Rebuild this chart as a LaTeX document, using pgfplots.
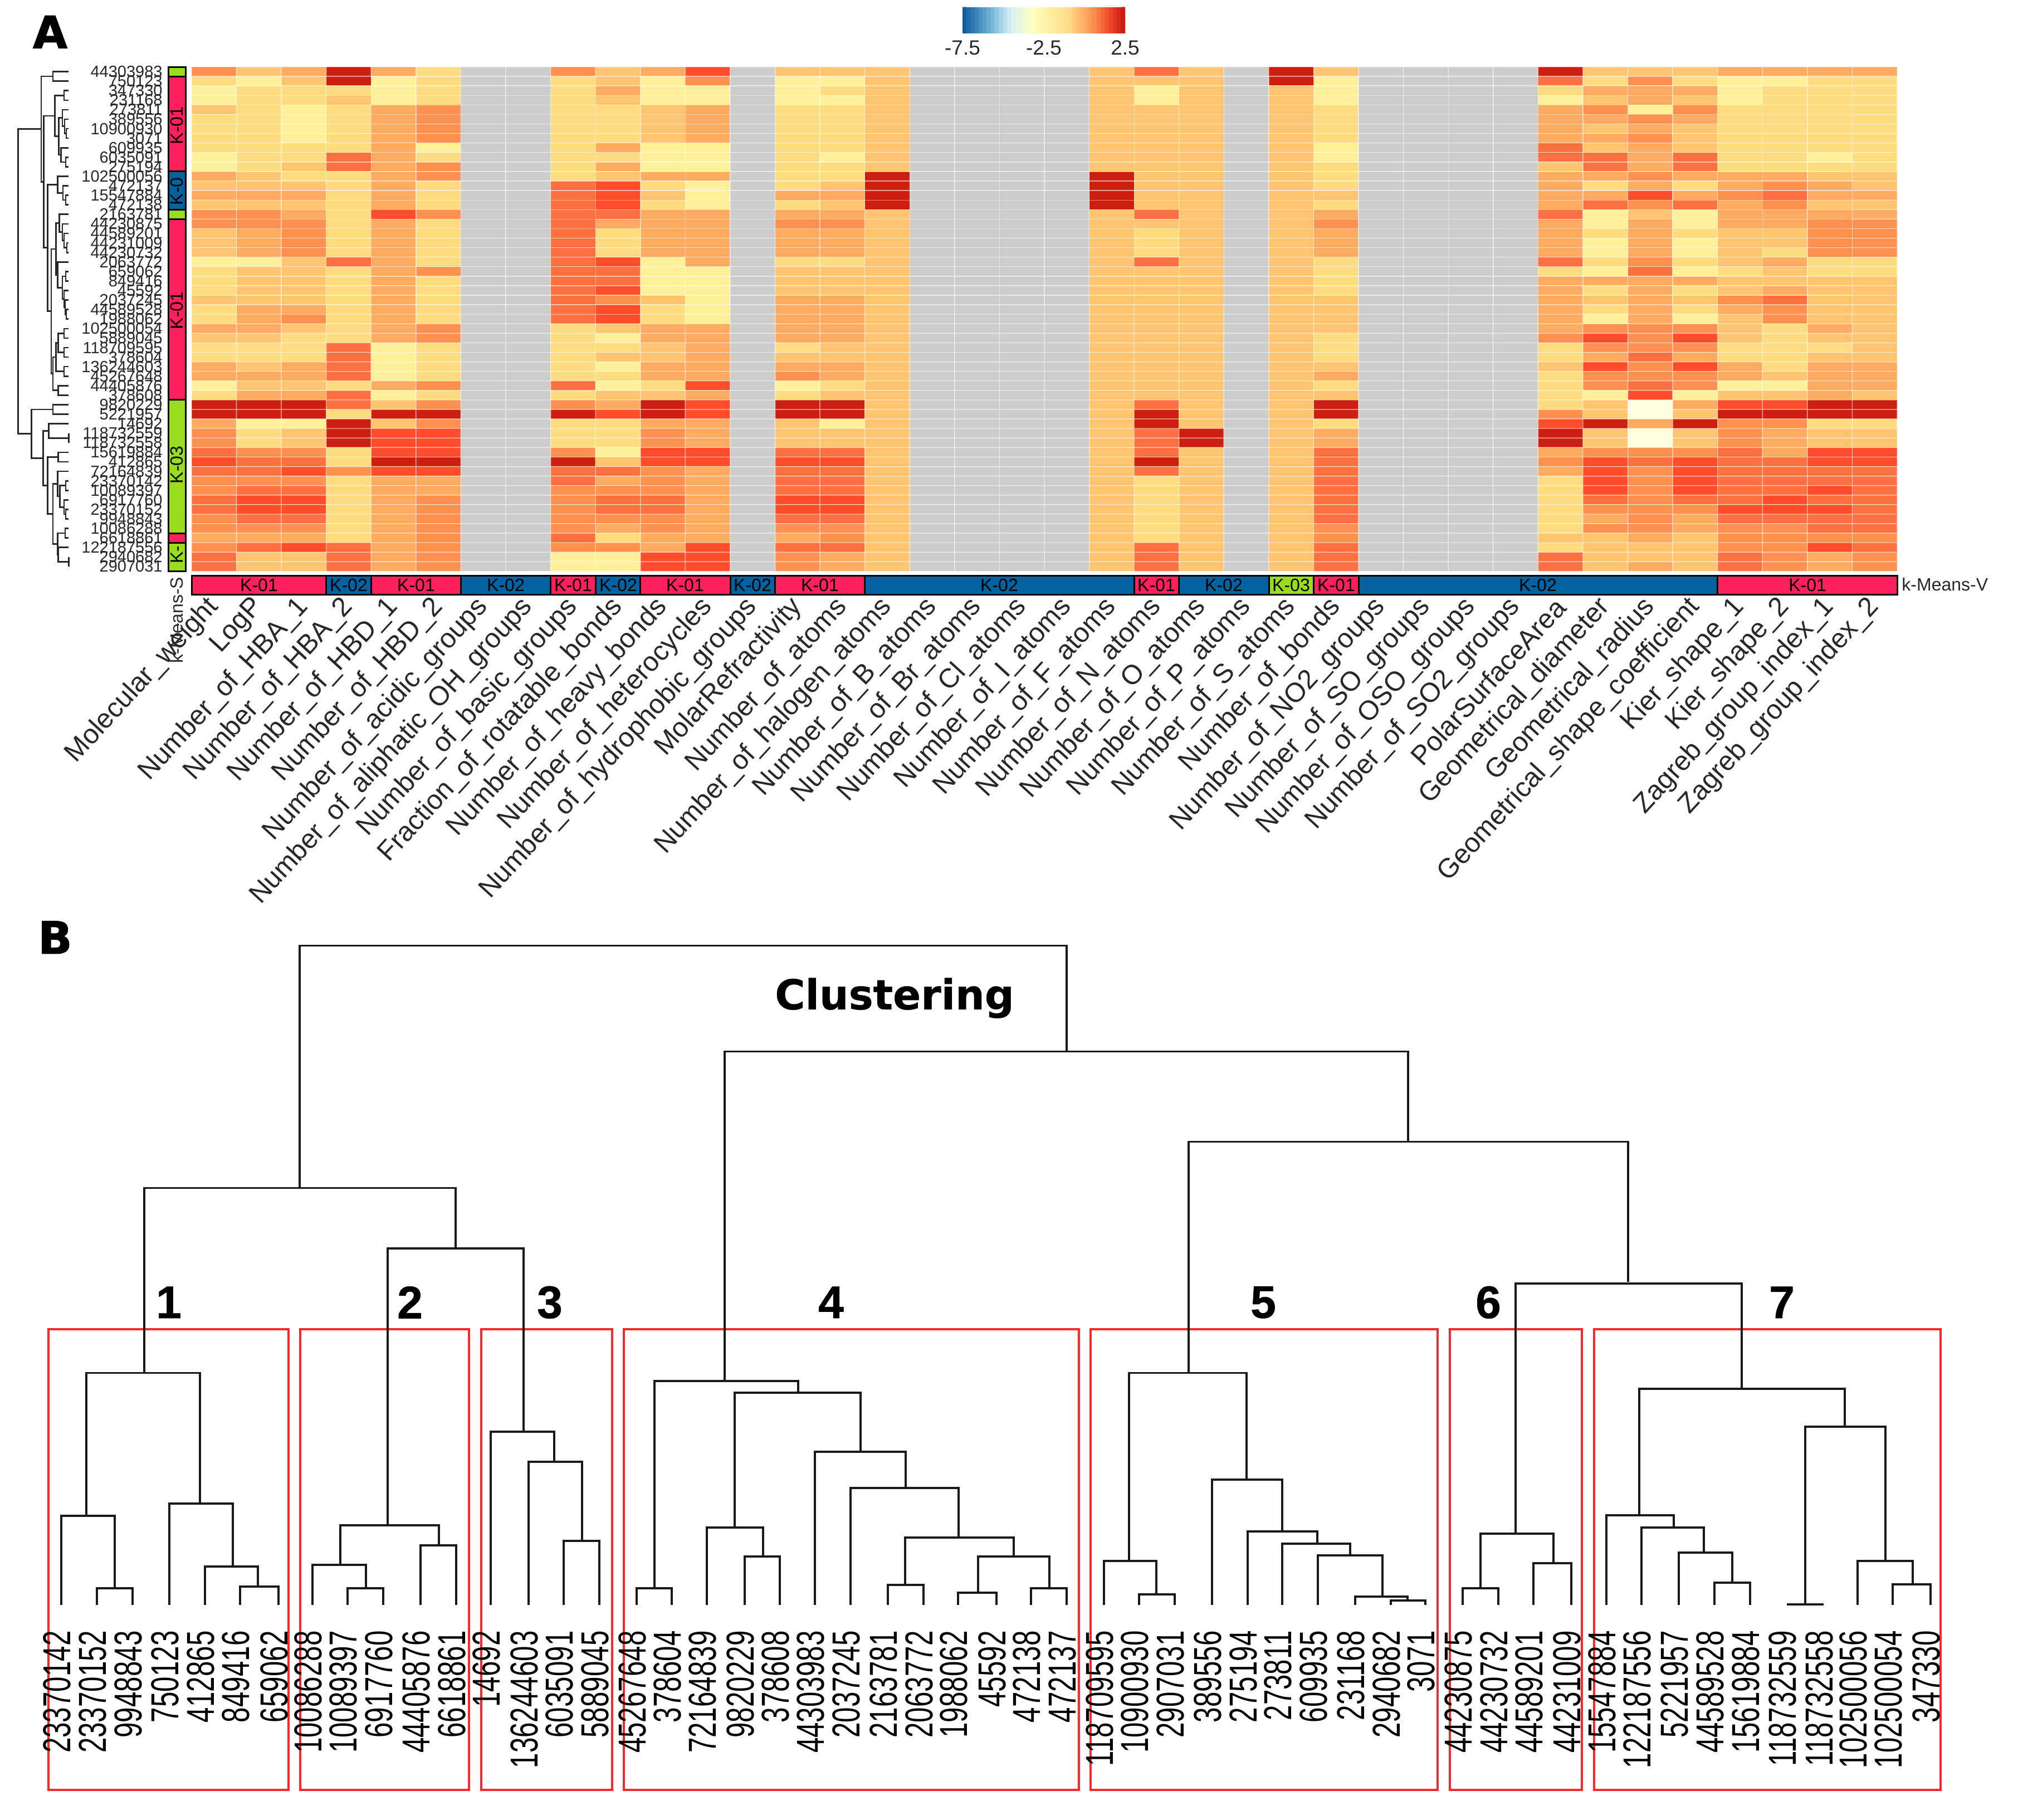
\documentclass[border=0pt]{standalone}
\usepackage{fontspec}
\usepackage{graphicx}
\usepackage{pgfplots}
\pgfplotsset{compat=1.18}
\setmainfont{Liberation Sans}
\newfontfamily\heavy[FakeBold=1.6]{DejaVu Sans Bold}
\newfontfamily\djb[FakeBold=0.5]{DejaVu Sans Bold}
\newfontfamily\numf[FakeBold=0.8]{Liberation Sans Bold}
\newcommand\fs[1]{\fontsize{#1pt}{#1pt}\selectfont}
\definecolor{kred}{RGB}{254,32,92}
\definecolor{kblue}{RGB}{4,98,160}
\definecolor{kgreen}{RGB}{154,220,30}
\definecolor{boxred}{RGB}{250,40,40}
\definecolor{dk}{RGB}{40,40,40}
% rectangles of the annotation bars
\newcommand\BAR[5]{\addplot[fill=#5,draw=black,line width=1.5pt] coordinates {(#1,#3)(#2,#3)(#2,#4)(#1,#4)} --cycle;}
\newcommand\BOX[2]{\addplot[draw=boxred,line width=1.8pt] coordinates {(#1,2386)(#2,2386)(#2,3213)(#1,3213)} --cycle;}
\newcommand\TL[2]{\node[font=\fs{16},text=black,inner sep=0pt] at (axis cs:#1,1051) {#2};}
\newcommand\SL[2]{\node[font=\fs{16},text=black,inner sep=0pt,rotate=90] at (axis cs:317,#1) {#2};}
\newcommand\RL[2]{\node[font=\fs{14.5},text=dk,inner sep=0pt,anchor=east] at (axis cs:292,#1) {#2};}
\newcommand\CL[2]{\node[font=\fs{24.4},text=dk,inner sep=0pt,anchor=east,rotate=47.5] at (axis cs:#1,1082) {#2};}
\newcommand\LF[2]{\node[font=\fs{35},text=black,inner sep=0pt,anchor=east,rotate=90] at (axis cs:#1-8,2927) {\scalebox{0.705}[1]{#2}};}
\newcommand\NB[2]{\node[font=\numf\fs{41},text=black,inner sep=0pt] at (axis cs:#1,2338) {#2};}
\begin{document}
\begin{tikzpicture}
\path[use as bounding box] (0,0) rectangle (1811.5pt,1633pt);
\begin{axis}[at={(0,0)},anchor=south west,scale only axis,width=1811.5pt,height=1633pt,
  xmin=0,xmax=3623,ymin=0,ymax=3266,y dir=reverse,hide axis,clip=false,
  point meta min=0,point meta max=9,
  colormap={hm}{rgb255(0cm)=(204,204,204) rgb255(1cm)=(255,255,224) rgb255(2cm)=(255,240,154)
    rgb255(3cm)=(254,220,128) rgb255(4cm)=(254,196,112) rgb255(5cm)=(254,170,96) rgb255(6cm)=(255,144,80)
    rgb255(7cm)=(255,112,64) rgb255(8cm)=(255,76,42) rgb255(9cm)=(204,31,16)}]
% heat map: one line per compound, 38 descriptors left to right; 0 = not available
\addplot[matrix plot*,mesh/rows=53,mesh/cols=38,point meta=explicit,
  draw=white,draw opacity=0.45,line width=0.7pt]
 table[row sep=\\,header=false,
   x expr={344+80.58*(mod(\coordindex,38)+0.5)},
   y expr={120.7+17.08*(floor((\coordindex+0.5)/38)+0.5)},
   meta index=0] {
6\\4\\5\\9\\5\\3\\0\\0\\6\\4\\5\\8\\0\\4\\4\\4\\0\\0\\0\\0\\4\\7\\4\\0\\9\\4\\0\\0\\0\\0\\9\\4\\4\\4\\5\\5\\5\\5\\
3\\2\\4\\9\\2\\3\\0\\0\\3\\4\\2\\6\\0\\2\\2\\4\\0\\0\\0\\0\\4\\4\\4\\0\\9\\2\\0\\0\\0\\0\\7\\3\\6\\3\\2\\2\\3\\3\\
2\\3\\3\\3\\2\\3\\0\\0\\3\\5\\2\\2\\0\\2\\3\\4\\0\\0\\0\\0\\4\\2\\4\\0\\4\\2\\0\\0\\0\\0\\3\\5\\5\\5\\2\\3\\3\\3\\
2\\3\\3\\4\\2\\3\\0\\0\\3\\4\\2\\2\\0\\2\\2\\4\\0\\0\\0\\0\\4\\2\\4\\0\\4\\2\\0\\0\\0\\0\\2\\4\\5\\4\\2\\3\\3\\3\\
4\\3\\2\\3\\5\\6\\0\\0\\3\\3\\4\\5\\0\\3\\3\\4\\0\\0\\0\\0\\4\\4\\4\\0\\4\\3\\0\\0\\0\\0\\5\\6\\2\\6\\3\\3\\3\\3\\
3\\3\\2\\3\\5\\6\\0\\0\\3\\3\\4\\5\\0\\3\\3\\4\\0\\0\\0\\0\\4\\4\\4\\0\\4\\3\\0\\0\\0\\0\\5\\5\\6\\5\\3\\3\\3\\3\\
3\\3\\2\\3\\5\\6\\0\\0\\3\\3\\4\\5\\0\\3\\3\\4\\0\\0\\0\\0\\4\\4\\4\\0\\4\\3\\0\\0\\0\\0\\5\\4\\5\\4\\3\\3\\3\\3\\
3\\3\\2\\3\\5\\6\\0\\0\\3\\3\\4\\5\\0\\3\\3\\4\\0\\0\\0\\0\\4\\4\\4\\0\\4\\3\\0\\0\\0\\0\\5\\5\\6\\4\\3\\3\\3\\3\\
3\\3\\3\\3\\5\\2\\0\\0\\3\\5\\2\\2\\0\\3\\3\\4\\0\\0\\0\\0\\4\\4\\4\\0\\4\\2\\0\\0\\0\\0\\7\\4\\5\\4\\3\\3\\3\\3\\
2\\3\\3\\7\\5\\3\\0\\0\\3\\3\\2\\2\\0\\3\\2\\4\\0\\0\\0\\0\\4\\4\\4\\0\\4\\2\\0\\0\\0\\0\\7\\7\\5\\7\\3\\3\\2\\3\\
2\\3\\4\\7\\5\\6\\0\\0\\3\\5\\2\\2\\0\\3\\3\\4\\0\\0\\0\\0\\4\\4\\4\\0\\4\\3\\0\\0\\0\\0\\4\\7\\5\\7\\3\\3\\3\\3\\
5\\4\\3\\3\\5\\6\\0\\0\\3\\4\\5\\5\\0\\3\\3\\9\\0\\0\\0\\0\\9\\4\\4\\0\\4\\3\\0\\0\\0\\0\\5\\5\\6\\5\\5\\5\\4\\4\\
4\\4\\4\\3\\5\\3\\0\\0\\7\\8\\3\\2\\0\\3\\4\\9\\0\\0\\0\\0\\9\\4\\4\\0\\4\\3\\0\\0\\0\\0\\5\\3\\5\\3\\5\\6\\5\\4\\
5\\5\\5\\3\\5\\3\\0\\0\\7\\8\\4\\2\\0\\5\\5\\9\\0\\0\\0\\0\\9\\4\\4\\0\\4\\4\\0\\0\\0\\0\\5\\5\\8\\5\\6\\7\\5\\5\\
4\\4\\4\\3\\5\\3\\0\\0\\7\\8\\3\\2\\0\\3\\4\\9\\0\\0\\0\\0\\9\\4\\4\\0\\4\\3\\0\\0\\0\\0\\5\\7\\6\\7\\5\\6\\4\\4\\
6\\6\\5\\3\\8\\6\\0\\0\\7\\7\\5\\5\\0\\5\\5\\4\\0\\0\\0\\0\\4\\7\\4\\0\\4\\5\\0\\0\\0\\0\\7\\2\\4\\2\\5\\5\\5\\5\\
6\\6\\6\\3\\5\\3\\0\\0\\7\\5\\5\\5\\0\\6\\6\\4\\0\\0\\0\\0\\4\\4\\4\\0\\4\\6\\0\\0\\0\\0\\5\\2\\5\\2\\5\\5\\6\\6\\
4\\5\\6\\3\\5\\3\\0\\0\\7\\3\\5\\5\\0\\5\\5\\4\\0\\0\\0\\0\\4\\3\\4\\0\\4\\5\\0\\0\\0\\0\\5\\3\\5\\3\\4\\4\\6\\6\\
4\\5\\6\\3\\5\\3\\0\\0\\7\\3\\5\\5\\0\\5\\5\\4\\0\\0\\0\\0\\4\\3\\4\\0\\4\\5\\0\\0\\0\\0\\5\\2\\5\\2\\4\\4\\6\\6\\
4\\5\\6\\3\\5\\3\\0\\0\\7\\3\\5\\5\\0\\5\\5\\4\\0\\0\\0\\0\\4\\3\\4\\0\\4\\5\\0\\0\\0\\0\\5\\2\\5\\2\\4\\3\\6\\6\\
2\\2\\4\\7\\5\\3\\0\\0\\7\\8\\2\\5\\0\\3\\3\\4\\0\\0\\0\\0\\4\\7\\4\\0\\4\\3\\0\\0\\0\\0\\7\\3\\6\\3\\4\\5\\3\\3\\
3\\4\\4\\3\\5\\6\\0\\0\\7\\7\\2\\2\\0\\4\\4\\4\\0\\0\\0\\0\\4\\4\\4\\0\\4\\3\\0\\0\\0\\0\\3\\2\\7\\2\\3\\4\\3\\3\\
3\\4\\4\\3\\5\\3\\0\\0\\7\\7\\2\\2\\0\\4\\4\\4\\0\\0\\0\\0\\4\\4\\4\\0\\4\\3\\0\\0\\0\\0\\5\\5\\5\\5\\4\\4\\4\\4\\
3\\4\\4\\3\\5\\3\\0\\0\\7\\8\\2\\2\\0\\4\\4\\4\\0\\0\\0\\0\\4\\4\\4\\0\\4\\3\\0\\0\\0\\0\\5\\3\\5\\3\\4\\5\\4\\4\\
4\\4\\4\\3\\5\\3\\0\\0\\7\\6\\4\\2\\0\\5\\5\\4\\0\\0\\0\\0\\4\\4\\4\\0\\4\\4\\0\\0\\0\\0\\5\\4\\5\\4\\6\\7\\4\\4\\
3\\5\\5\\3\\5\\3\\0\\0\\7\\8\\3\\2\\0\\5\\5\\4\\0\\0\\0\\0\\4\\4\\4\\0\\4\\4\\0\\0\\0\\0\\5\\3\\5\\3\\5\\6\\4\\4\\
3\\5\\6\\3\\5\\3\\0\\0\\7\\8\\3\\2\\0\\5\\5\\4\\0\\0\\0\\0\\4\\4\\4\\0\\4\\4\\0\\0\\0\\0\\5\\2\\5\\2\\4\\6\\4\\4\\
5\\5\\4\\3\\5\\6\\0\\0\\3\\4\\5\\5\\0\\5\\5\\4\\0\\0\\0\\0\\4\\4\\4\\0\\4\\4\\0\\0\\0\\0\\5\\6\\6\\6\\4\\3\\5\\4\\
4\\4\\3\\3\\5\\6\\0\\0\\3\\2\\5\\5\\0\\5\\5\\4\\0\\0\\0\\0\\4\\4\\4\\0\\4\\3\\0\\0\\0\\0\\6\\8\\6\\8\\4\\3\\4\\4\\
3\\3\\3\\7\\2\\3\\0\\0\\3\\3\\4\\5\\0\\3\\4\\4\\0\\0\\0\\0\\4\\4\\4\\0\\4\\3\\0\\0\\0\\0\\3\\6\\6\\6\\3\\3\\3\\4\\
3\\3\\3\\7\\2\\3\\0\\0\\3\\4\\4\\5\\0\\4\\4\\4\\0\\0\\0\\0\\4\\4\\4\\0\\4\\3\\0\\0\\0\\0\\3\\5\\7\\5\\3\\3\\4\\4\\
5\\4\\5\\7\\2\\3\\0\\0\\3\\2\\5\\5\\0\\5\\5\\4\\0\\0\\0\\0\\4\\4\\4\\0\\4\\4\\0\\0\\0\\0\\4\\8\\6\\8\\5\\3\\5\\5\\
5\\5\\5\\7\\2\\3\\0\\0\\3\\3\\5\\5\\0\\6\\5\\4\\0\\0\\0\\0\\4\\4\\4\\0\\4\\5\\0\\0\\0\\0\\3\\6\\6\\6\\5\\4\\5\\5\\
2\\4\\4\\3\\5\\6\\0\\0\\7\\2\\3\\8\\0\\2\\3\\4\\0\\0\\0\\0\\4\\4\\4\\0\\4\\3\\0\\0\\0\\0\\3\\6\\7\\6\\2\\2\\5\\5\\
3\\5\\5\\7\\2\\3\\0\\0\\3\\4\\4\\5\\0\\3\\4\\4\\0\\0\\0\\0\\4\\4\\4\\0\\4\\4\\0\\0\\0\\0\\3\\2\\8\\2\\4\\4\\5\\4\\
9\\9\\9\\7\\4\\6\\0\\0\\6\\5\\9\\8\\0\\9\\9\\4\\0\\0\\0\\0\\4\\7\\4\\0\\4\\9\\0\\0\\0\\0\\3\\4\\1\\5\\8\\8\\9\\9\\
9\\9\\9\\3\\9\\9\\0\\0\\9\\8\\9\\8\\0\\9\\9\\4\\0\\0\\0\\0\\4\\9\\4\\0\\4\\9\\0\\0\\0\\0\\6\\4\\1\\4\\9\\9\\9\\9\\
5\\2\\2\\9\\4\\6\\0\\0\\3\\3\\5\\5\\0\\4\\2\\4\\0\\0\\0\\0\\4\\9\\4\\0\\4\\3\\0\\0\\0\\0\\8\\9\\5\\9\\6\\6\\3\\3\\
6\\3\\4\\9\\8\\8\\0\\0\\3\\3\\6\\5\\0\\4\\4\\4\\0\\0\\0\\0\\4\\7\\9\\0\\4\\5\\0\\0\\0\\0\\9\\4\\1\\4\\6\\5\\4\\4\\
6\\3\\4\\9\\8\\8\\0\\0\\3\\3\\6\\5\\0\\4\\4\\4\\0\\0\\0\\0\\4\\7\\9\\0\\4\\5\\0\\0\\0\\0\\9\\4\\1\\4\\6\\5\\4\\4\\
7\\6\\6\\3\\8\\8\\0\\0\\6\\2\\8\\8\\0\\7\\7\\4\\0\\0\\0\\0\\4\\7\\4\\0\\4\\7\\0\\0\\0\\0\\5\\6\\6\\6\\7\\5\\8\\8\\
8\\7\\7\\3\\9\\9\\0\\0\\9\\4\\8\\8\\0\\8\\8\\4\\0\\0\\0\\0\\4\\9\\4\\0\\4\\7\\0\\0\\0\\0\\6\\8\\7\\8\\7\\7\\8\\8\\
7\\7\\8\\6\\8\\8\\0\\0\\7\\7\\6\\5\\0\\7\\7\\4\\0\\0\\0\\0\\4\\7\\4\\0\\4\\7\\0\\0\\0\\0\\5\\8\\6\\8\\7\\7\\7\\7\\
6\\6\\6\\3\\5\\5\\0\\0\\7\\5\\6\\5\\0\\7\\7\\4\\0\\0\\0\\0\\4\\3\\4\\0\\4\\7\\0\\0\\0\\0\\3\\8\\6\\8\\7\\7\\7\\7\\
6\\7\\7\\3\\5\\5\\0\\0\\6\\6\\6\\5\\0\\7\\7\\4\\0\\0\\0\\0\\4\\3\\4\\0\\4\\7\\0\\0\\0\\0\\3\\8\\6\\8\\7\\7\\8\\7\\
7\\8\\8\\3\\5\\6\\0\\0\\6\\7\\7\\5\\0\\8\\8\\4\\0\\0\\0\\0\\4\\3\\4\\0\\4\\7\\0\\0\\0\\0\\3\\7\\6\\7\\7\\8\\7\\7\\
7\\8\\8\\3\\5\\6\\0\\0\\6\\7\\7\\5\\0\\8\\8\\4\\0\\0\\0\\0\\4\\3\\4\\0\\4\\7\\0\\0\\0\\0\\3\\6\\6\\6\\8\\8\\8\\7\\
6\\7\\7\\3\\5\\6\\0\\0\\6\\6\\6\\5\\0\\7\\7\\4\\0\\0\\0\\0\\4\\3\\4\\0\\4\\7\\0\\0\\0\\0\\3\\5\\6\\5\\7\\7\\7\\7\\
6\\6\\6\\3\\5\\6\\0\\0\\6\\5\\6\\5\\0\\6\\6\\4\\0\\0\\0\\0\\4\\3\\4\\0\\4\\6\\0\\0\\0\\0\\3\\6\\6\\5\\6\\6\\7\\7\\
5\\5\\5\\3\\5\\6\\0\\0\\7\\3\\5\\5\\0\\5\\6\\4\\0\\0\\0\\0\\4\\3\\4\\0\\4\\6\\0\\0\\0\\0\\4\\4\\5\\4\\6\\6\\6\\6\\
6\\7\\8\\7\\5\\6\\0\\0\\6\\6\\5\\8\\0\\7\\7\\4\\0\\0\\0\\0\\4\\7\\4\\0\\4\\7\\0\\0\\0\\0\\3\\4\\4\\4\\6\\6\\8\\7\\
7\\4\\4\\7\\5\\6\\0\\0\\2\\2\\8\\8\\0\\6\\5\\4\\0\\0\\0\\0\\4\\7\\4\\0\\4\\7\\0\\0\\0\\0\\7\\4\\4\\4\\7\\6\\5\\6\\
7\\4\\4\\7\\5\\6\\0\\0\\2\\2\\8\\8\\0\\6\\5\\4\\0\\0\\0\\0\\4\\7\\4\\0\\4\\7\\0\\0\\0\\0\\7\\4\\5\\4\\7\\6\\5\\6\\
};
% annotation bar above the variable names
\BAR{344}{585.7}{1034}{1068}{kred}\BAR{585.7}{666.3}{1034}{1068}{kblue}\BAR{666.3}{827.5}{1034}{1068}{kred}
\BAR{827.5}{988.6}{1034}{1068}{kblue}\BAR{988.6}{1069.2}{1034}{1068}{kred}\BAR{1069.2}{1149.8}{1034}{1068}{kblue}
\BAR{1149.8}{1311}{1034}{1068}{kred}\BAR{1311}{1391.5}{1034}{1068}{kblue}\BAR{1391.5}{1552.7}{1034}{1068}{kred}
\BAR{1552.7}{2036.2}{1034}{1068}{kblue}\BAR{2036.2}{2116.8}{1034}{1068}{kred}\BAR{2116.8}{2278}{1034}{1068}{kblue}
\BAR{2278}{2358.5}{1034}{1068}{kgreen}\BAR{2358.5}{2439.1}{1034}{1068}{kred}\BAR{2439.1}{3083.8}{1034}{1068}{kblue}
\BAR{3083.8}{3406}{1034}{1068}{kred}
\TL{465}{K-01}\TL{626}{K-02}\TL{747}{K-01}\TL{908}{K-02}\TL{1029}{K-01}\TL{1110}{K-02}\TL{1230}{K-01}\TL{1351}{K-02}
\TL{1472}{K-01}\TL{1794}{K-02}\TL{2076}{K-01}\TL{2197}{K-02}\TL{2318}{K-03}\TL{2399}{K-01}\TL{2761}{K-02}\TL{3245}{K-01}
% annotation bar beside the compound names
\BAR{302}{333}{120.7}{137.8}{kgreen}\BAR{302}{333}{137.8}{308.6}{kred}\BAR{302}{333}{308.6}{376.9}{kblue}
\BAR{302}{333}{376.9}{394}{kgreen}\BAR{302}{333}{394}{718.5}{kred}\BAR{302}{333}{718.5}{957.6}{kgreen}
\BAR{302}{333}{957.6}{974.7}{kred}\BAR{302}{333}{974.7}{1026}{kgreen}
\SL{226}{K-01}\SL{344}{K-0}\SL{558}{K-01}\SL{835}{K-03}\SL{996}{K-}
\node[font=\fs{16},text=dk,inner sep=0pt,anchor=west] at (axis cs:3414,1050) {k-Means-V};
\node[font=\fs{16},text=dk,inner sep=0pt,anchor=east,rotate=90] at (axis cs:317,1036) {k-Means-S};
% compound names
\RL{129.2}{44303983}\RL{146.3}{750123}\RL{163.4}{347330}\RL{180.5}{231168}\RL{197.6}{273811}\RL{214.6}{389556}
\RL{231.7}{10900930}\RL{248.8}{3071}\RL{265.9}{609935}\RL{283}{6035091}\RL{300}{275194}\RL{317.1}{102500056}
\RL{334.2}{472137}\RL{351.3}{15547884}\RL{368.4}{472138}\RL{385.4}{2163781}\RL{402.5}{44230875}\RL{419.6}{44589201}
\RL{436.7}{44231009}\RL{453.8}{44230732}\RL{470.8}{2063772}\RL{487.9}{659062}\RL{505}{849416}\RL{522.1}{45592}
\RL{539.2}{2037245}\RL{556.2}{44589528}\RL{573.3}{1988062}\RL{590.4}{102500054}\RL{607.5}{5889045}\RL{624.6}{118709595}
\RL{641.6}{378604}\RL{658.7}{136244603}\RL{675.8}{45267648}\RL{692.9}{44405876}\RL{710}{378608}\RL{727}{9820229}
\RL{744.1}{5221957}\RL{761.2}{14692}\RL{778.3}{118732559}\RL{795.4}{118732558}\RL{812.4}{15619884}\RL{829.5}{412865}
\RL{846.6}{72164839}\RL{863.7}{23370142}\RL{880.8}{10089397}\RL{897.8}{6917760}\RL{914.9}{23370152}\RL{932}{9948843}
\RL{949.1}{10086288}\RL{966.2}{6618861}\RL{983.2}{122187556}\RL{1000.3}{2940682}\RL{1017.4}{2907031}
% variable names
\CL{384.3}{Molecular\_weight}\CL{464.9}{LogP}\CL{545.5}{Number\_of\_HBA\_1}\CL{626}{Number\_of\_HBA\_2}
\CL{706.6}{Number\_of\_HBD\_1}\CL{787.2}{Number\_of\_HBD\_2}\CL{867.8}{Number\_of\_acidic\_groups}
\CL{948.4}{Number\_of\_aliphatic\_OH\_groups}\CL{1029}{Number\_of\_basic\_groups}\CL{1109.5}{Fraction\_of\_rotatable\_bonds}
\CL{1190.1}{Number\_of\_heavy\_bonds}\CL{1270.7}{Number\_of\_heterocycles}\CL{1351.3}{Number\_of\_hydrophobic\_groups}
\CL{1431.9}{MolarRefractivity}\CL{1512.4}{Number\_of\_atoms}\CL{1593}{Number\_of\_halogen\_atoms}
\CL{1673.6}{Number\_of\_B\_atoms}\CL{1754.2}{Number\_of\_Br\_atoms}\CL{1834.8}{Number\_of\_Cl\_atoms}
\CL{1915.4}{Number\_of\_I\_atoms}\CL{1995.9}{Number\_of\_F\_atoms}\CL{2076.5}{Number\_of\_N\_atoms}
\CL{2157.1}{Number\_of\_O\_atoms}\CL{2237.7}{Number\_of\_P\_atoms}\CL{2318.3}{Number\_of\_S\_atoms}
\CL{2398.9}{Number\_of\_bonds}\CL{2479.4}{Number\_of\_NO2\_groups}\CL{2560}{Number\_of\_SO\_groups}
\CL{2640.6}{Number\_of\_OSO\_groups}\CL{2721.2}{Number\_of\_SO2\_groups}\CL{2801.8}{PolarSurfaceArea}
\CL{2882.3}{Geometrical\_diameter}\CL{2962.9}{Geometrical\_radius}\CL{3043.5}{Geometrical\_shape\_coefficient}
\CL{3124.1}{Kier\_shape\_1}\CL{3204.7}{Kier\_shape\_2}\CL{3285.2}{Zagreb\_group\_index\_1}\CL{3365.8}{Zagreb\_group\_index\_2}
% dendrogram of the compounds, panel A
\addplot[dk,line width=1.3pt,unbounded coords=jump,x filter/.expression={x*1.045}] coordinates {
(91,137.8)(71,137.8)(71,327)(75,327) (nan,nan)
(118,129.2)(91,129.2)(91,146.3)(118,146.3) (nan,nan)
(94,208.7)(75,208.7)(75,445)(82,445) (nan,nan)
(110,172)(94,172)(94,245)(101,245) (nan,nan)
(118,163.4)(110,163.4)(110,180.5)(118,180.5) (nan,nan)
(107,212)(101,212)(101,278.7)(105,278.7) (nan,nan)
(118,197.6)(107,197.6)(107,227)(111,227) (nan,nan)
(118,214.6)(111,214.6)(111,240)(114,240) (nan,nan)
(118,231.7)(114,231.7)(114,248.8)(118,248.8) (nan,nan)
(118,265.9)(105,265.9)(105,291.5)(113,291.5) (nan,nan)
(118,283)(113,283)(113,300)(118,300) (nan,nan)
(99,332)(82,332)(82,559)(88,559) (nan,nan)
(118,317.1)(99,317.1)(99,347)(108,347) (nan,nan)
(118,334.2)(108,334.2)(108,359.8)(113,359.8) (nan,nan)
(118,351.3)(113,351.3)(113,368.4)(118,368.4) (nan,nan)
(96,447.5)(88,447.5)(88,671)(91,671) (nan,nan)
(102,401)(96,401)(96,494)(99,494) (nan,nan)
(118,385.4)(102,385.4)(102,417)(107,417) (nan,nan)
(118,402.5)(107,402.5)(107,432)(110,432) (nan,nan)
(118,419.6)(110,419.6)(110,445)(115,445) (nan,nan)
(118,436.7)(115,436.7)(115,453.8)(118,453.8) (nan,nan)
(118,470.8)(99,470.8)(99,517)(107,517) (nan,nan)
(113,496.5)(107,496.5)(107,537)(110,537) (nan,nan)
(118,487.9)(113,487.9)(113,505)(118,505) (nan,nan)
(118,522.1)(110,522.1)(110,552)(112,552) (nan,nan)
(118,539.2)(112,539.2)(112,565)(114,565) (nan,nan)
(118,556.2)(114,556.2)(114,573.3)(118,573.3) (nan,nan)
(96,641.5)(91,641.5)(91,701)(100,701) (nan,nan)
(100,616)(96,616)(96,667)(110,667) (nan,nan)
(110,599)(100,599)(100,633)(110,633) (nan,nan)
(118,590.4)(110,590.4)(110,607.5)(118,607.5) (nan,nan)
(118,624.6)(110,624.6)(110,641.6)(118,641.6) (nan,nan)
(118,658.7)(110,658.7)(110,675.8)(118,675.8) (nan,nan)
(118,692.9)(100,692.9)(100,710)(118,710) (nan,nan)
(71,232)(31,232)(31,779)(54,779) (nan,nan)
(91,735.5)(54,735.5)(54,823)(74,823) (nan,nan)
(118,727)(91,727)(91,744.1)(118,744.1) (nan,nan)
(84,774)(74,774)(74,872)(82,872) (nan,nan)
(118,761.2)(84,761.2)(84,787)(118,787) (nan,nan)
(118,778.3)(118,795.4) (nan,nan)
(100,821)(82,821)(82,923)(91,923) (nan,nan)
(118,812.4)(100,812.4)(100,829.5)(118,829.5) (nan,nan)
(99,869)(91,869)(91,977)(99,977) (nan,nan)
(118,846.6)(99,846.6)(99,891.5)(103,891.5) (nan,nan)
(113,872)(103,872)(103,911)(110,911) (nan,nan)
(118,863.7)(113,863.7)(113,880.8)(118,880.8) (nan,nan)
(118,897.8)(110,897.8)(110,923.5)(113,923.5) (nan,nan)
(118,914.9)(113,914.9)(113,932)(118,932) (nan,nan)
(112,957.6)(99,957.6)(99,996)(100,996) (nan,nan)
(118,949.1)(112,949.1)(112,966.2)(118,966.2) (nan,nan)
(118,983.2)(100,983.2)(100,1009)(118,1009) (nan,nan)
(118,1000.3)(118,1017.4)
};
% panel B boxes
\BOX{87}{518}\BOX{539}{842}\BOX{864}{1099}\BOX{1120}{1937}\BOX{1958}{2581}\BOX{2603}{2840}\BOX{2862}{3484}
% panel B dendrogram
\addplot[black!90,line width=1.7pt,unbounded coords=jump] coordinates {
(538,2133)(538,1698)(1915,1698)(1915,1888) (nan,nan)
(259,2464.5)(259,2133)(818,2133)(818,2241) (nan,nan)
(696,2738)(696,2241)(940,2241)(940,2570) (nan,nan)
(1301,2479)(1301,1888)(2528,1888)(2528,2050) (nan,nan)
(2134,2464.5)(2134,2050)(2923,2050)(2923,2301) (nan,nan)
(2721,2753)(2721,2304)(3127,2304)(3127,2493) (nan,nan)
(155,2721)(155,2464.5)(359,2464.5)(359,2699) (nan,nan)
(110,2881)(110,2721)(206,2721)(206,2851) (nan,nan)
(174,2881)(174,2851)(238,2851)(238,2881) (nan,nan)
(304,2881)(304,2699)(418,2699)(418,2812) (nan,nan)
(368,2881)(368,2812)(463,2812)(463,2848) (nan,nan)
(431,2881)(431,2848)(500,2848)(500,2881) (nan,nan)
(611,2809)(611,2738)(788,2738)(788,2774) (nan,nan)
(561,2881)(561,2809)(657,2809)(657,2851) (nan,nan)
(624,2881)(624,2851)(688,2851)(688,2881) (nan,nan)
(755,2881)(755,2774)(819,2774)(819,2881) (nan,nan)
(881,2881)(881,2570)(995,2570)(995,2624) (nan,nan)
(949,2881)(949,2624)(1045,2624)(1045,2766) (nan,nan)
(1012,2881)(1012,2766)(1076,2766)(1076,2881) (nan,nan)
(1175,2851)(1175,2479)(1433,2479)(1433,2500) (nan,nan)
(1143,2881)(1143,2851)(1206,2851)(1206,2881) (nan,nan)
(1319,2742)(1319,2500)(1545,2500)(1545,2606) (nan,nan)
(1269,2881)(1269,2742)(1370,2742)(1370,2794) (nan,nan)
(1337,2881)(1337,2794)(1400,2794)(1400,2881) (nan,nan)
(1463,2881)(1463,2606)(1626,2606)(1626,2671) (nan,nan)
(1527,2881)(1527,2671)(1721,2671)(1721,2760) (nan,nan)
(1625,2845)(1625,2760)(1820,2760)(1820,2794) (nan,nan)
(1594,2881)(1594,2845)(1658,2845)(1658,2881) (nan,nan)
(1756,2859)(1756,2794)(1884,2794)(1884,2851) (nan,nan)
(1720,2881)(1720,2859)(1789,2859)(1789,2881) (nan,nan)
(1851,2881)(1851,2851)(1915,2851)(1915,2881) (nan,nan)
(2027,2802)(2027,2464.5)(2238,2464.5)(2238,2656) (nan,nan)
(1982,2881)(1982,2802)(2076,2802)(2076,2862) (nan,nan)
(2045,2881)(2045,2862)(2109,2862)(2109,2881) (nan,nan)
(2176,2881)(2176,2656)(2302,2656)(2302,2749) (nan,nan)
(2240,2881)(2240,2749)(2365,2749)(2365,2771) (nan,nan)
(2302,2881)(2302,2771)(2424,2771)(2424,2792) (nan,nan)
(2366,2881)(2366,2792)(2482,2792)(2482,2866) (nan,nan)
(2433,2881)(2433,2866)(2527,2866)(2527,2873) (nan,nan)
(2497,2881)(2497,2873)(2559,2873)(2559,2881) (nan,nan)
(2658,2851)(2658,2753)(2789,2753)(2789,2806) (nan,nan)
(2626,2881)(2626,2851)(2690,2851)(2690,2881) (nan,nan)
(2753,2881)(2753,2806)(2821,2806)(2821,2881) (nan,nan)
(2943,2720)(2943,2493)(3312,2493)(3312,2561) (nan,nan)
(2884,2881)(2884,2720)(3005,2720)(3005,2742) (nan,nan)
(2947,2881)(2947,2742)(3059,2742)(3059,2787) (nan,nan)
(3014,2881)(3014,2787)(3110,2787)(3110,2841) (nan,nan)
(3078,2881)(3078,2841)(3142,2841)(3142,2881) (nan,nan)
(3241,2880)(3241,2561)(3385,2561)(3385,2802) (nan,nan)
(3208,2880)(3274,2880) (nan,nan)
(3335,2881)(3335,2802)(3434,2802)(3434,2844) (nan,nan)
(3398,2881)(3398,2844)(3466,2844)(3466,2881)
};
% leaf labels
\LF{110}{23370142}\LF{174}{23370152}\LF{238}{9948843}\LF{304}{750123}\LF{368}{412865}\LF{431}{849416}\LF{500}{659062}
\LF{561}{10086288}\LF{624}{10089397}\LF{688}{6917760}\LF{755}{44405876}\LF{819}{6618861}
\LF{881}{14692}\LF{949}{136244603}\LF{1012}{6035091}\LF{1076}{5889045}
\LF{1143}{45267648}\LF{1206}{378604}\LF{1269}{72164839}\LF{1337}{9820229}\LF{1400}{378608}\LF{1463}{44303983}
\LF{1527}{2037245}\LF{1594}{2163781}\LF{1658}{2063772}\LF{1720}{1988062}\LF{1789}{45592}\LF{1851}{472138}\LF{1915}{472137}
\LF{1982}{118709595}\LF{2045}{10900930}\LF{2109}{2907031}\LF{2176}{389556}\LF{2240}{275194}\LF{2302}{273811}
\LF{2366}{609935}\LF{2433}{231168}\LF{2497}{2940682}\LF{2559}{3071}
\LF{2626}{44230875}\LF{2690}{44230732}\LF{2753}{44589201}\LF{2821}{44231009}
\LF{2884}{15547884}\LF{2947}{122187556}\LF{3014}{5221957}\LF{3078}{44589528}\LF{3142}{15619884}
\LF{3208}{118732559}\LF{3274}{118732558}\LF{3335}{102500056}\LF{3398}{102500054}\LF{3466}{347330}
\NB{303}{1}\NB{736}{2}\NB{987}{3}\NB{1492}{4}\NB{2268}{5}\NB{2672}{6}\NB{3199}{7}
\node[font=\djb\fs{37},inner sep=0pt] at (axis cs:1606,1792) {Clustering};
\node[font=\heavy\fs{40},inner sep=0pt] at (axis cs:90,58) {A};
\node[font=\heavy\fs{40},inner sep=0pt] at (axis cs:99,1683) {B};
\end{axis}
% colour key
\begin{axis}[at={(864pt,1603pt)},anchor=south west,scale only axis,width=146pt,height=23.5pt,
  xmin=-7.5,xmax=2.5,ymin=0,ymax=1,ytick=\empty,xtick={-7.5,-2.5,2.5},xticklabels={-7.5,-2.5,2.5},
  axis line style={draw=none},major tick length=0pt,
  ticklabel style={font=\fs{18.5},text=dk},xticklabel shift=3pt,
  point meta min=-7.5,point meta max=2.5,
  colormap={key}{rgb255(0cm)=(8,88,156) rgb255(1.86cm)=(120,184,216) rgb255(2.95cm)=(214,240,245)
    rgb255(4.3cm)=(255,255,192) rgb255(6.5cm)=(254,222,136) rgb255(7.87cm)=(253,154,86)
    rgb255(8.96cm)=(240,80,48) rgb255(10cm)=(200,21,15)}]
\addplot[matrix plot*,mesh/cols=40,mesh/rows=2,point meta=x] table[row sep=\\,header=false,x index=0,y index=1] {
-7.375 0.25\\-7.125 0.25\\-6.875 0.25\\-6.625 0.25\\-6.375 0.25\\-6.125 0.25\\-5.875 0.25\\-5.625 0.25\\-5.375 0.25\\-5.125 0.25\\-4.875 0.25\\-4.625 0.25\\-4.375 0.25\\-4.125 0.25\\-3.875 0.25\\-3.625 0.25\\-3.375 0.25\\-3.125 0.25\\-2.875 0.25\\-2.625 0.25\\-2.375 0.25\\-2.125 0.25\\-1.875 0.25\\-1.625 0.25\\-1.375 0.25\\-1.125 0.25\\-0.875 0.25\\-0.625 0.25\\-0.375 0.25\\-0.125 0.25\\0.125 0.25\\0.375 0.25\\0.625 0.25\\0.875 0.25\\1.125 0.25\\1.375 0.25\\1.625 0.25\\1.875 0.25\\2.125 0.25\\2.375 0.25\\
-7.375 0.75\\-7.125 0.75\\-6.875 0.75\\-6.625 0.75\\-6.375 0.75\\-6.125 0.75\\-5.875 0.75\\-5.625 0.75\\-5.375 0.75\\-5.125 0.75\\-4.875 0.75\\-4.625 0.75\\-4.375 0.75\\-4.125 0.75\\-3.875 0.75\\-3.625 0.75\\-3.375 0.75\\-3.125 0.75\\-2.875 0.75\\-2.625 0.75\\-2.375 0.75\\-2.125 0.75\\-1.875 0.75\\-1.625 0.75\\-1.375 0.75\\-1.125 0.75\\-0.875 0.75\\-0.625 0.75\\-0.375 0.75\\-0.125 0.75\\0.125 0.75\\0.375 0.75\\0.625 0.75\\0.875 0.75\\1.125 0.75\\1.375 0.75\\1.625 0.75\\1.875 0.75\\2.125 0.75\\2.375 0.75\\
};
\end{axis}
\end{tikzpicture}
\end{document}
